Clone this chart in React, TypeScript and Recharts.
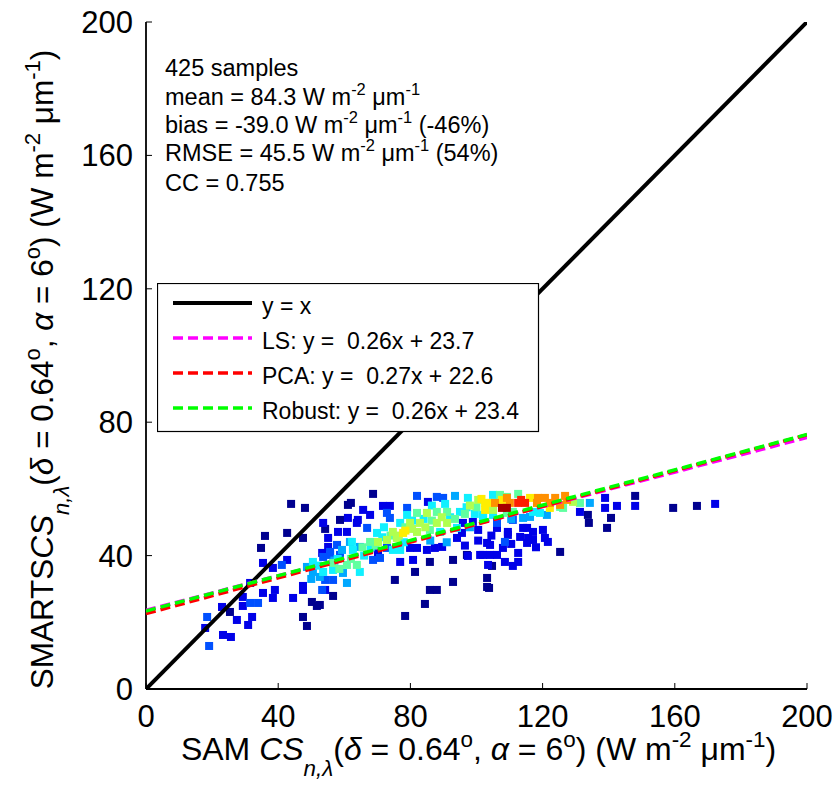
import React from "react";
import { ScatterChart, Scatter, XAxis, YAxis, Legend, Label } from "recharts";

// point colour bands (jet colormap, low density -> high density)
const navyPts: [number, number][] = [
  [43.9, 55.5], [48.1, 54.3], [36.0, 45.9], [42.7, 46.8], [34.8, 42.3], [47.5, 45.3], [54.2, 48.0],
  [25.4, 23.1], [50.2, 26.1], [51.7, 24.9], [47.5, 21.6], [48.7, 18.9], [68.7, 58.5], [61.1, 55.2],
  [62.0, 55.8], [58.7, 50.7], [85.9, 38.1], [92.9, 38.7], [75.3, 32.7], [81.4, 35.1], [85.9, 29.7],
  [88.0, 29.7], [92.9, 32.1], [84.4, 25.5], [78.4, 21.9], [56.6, 27.9], [103.2, 33.3], [103.2, 30.6],
  [52.6, 25.2], [125.3, 41.1], [104.7, 36.9], [103.8, 30.3], [140.7, 51.3], [133.7, 52.2], [134.0, 49.8],
  [139.5, 48.3], [148.0, 57.9], [159.5, 54.3], [166.7, 54.9], [97.1, 40.2],
];
const bluePts: [number, number][] = [
  [53.6, 49.8], [35.4, 37.8], [42.7, 38.7], [38.4, 36.3], [53.3, 40.8], [31.5, 31.8], [35.4, 28.8],
  [39.0, 29.7], [38.4, 27.3], [29.3, 27.6], [29.3, 24.9], [23.0, 24.6], [27.5, 20.7], [32.1, 21.6],
  [30.9, 19.2], [17.9, 18.3], [23.3, 16.2], [25.7, 15.6], [44.5, 27.3], [47.5, 29.7], [65.7, 53.7],
  [71.7, 54.9], [73.8, 54.9], [61.1, 51.3], [58.1, 47.1], [60.8, 47.1], [63.8, 49.8], [67.8, 52.2],
  [55.1, 45.3], [55.1, 42.6], [76.9, 38.1], [80.8, 38.7], [97.4, 39.9], [85.3, 56.1], [64.1, 50.7],
  [95.9, 49.8], [98.9, 50.1], [87.4, 42.3], [89.6, 42.6], [94.1, 45.3], [95.6, 46.8], [100.5, 47.7],
  [103.2, 43.8], [101.1, 40.2], [104.1, 40.2], [103.5, 37.2], [79.9, 42.3], [82.0, 42.3], [85.0, 41.7],
  [70.2, 40.8], [54.2, 29.7], [109.5, 47.1], [109.5, 46.2], [114.1, 48.3], [115.3, 48.3], [117.1, 47.1],
  [120.1, 47.7], [113.2, 45.6], [115.6, 45.3], [117.1, 44.7], [120.7, 45.3], [121.6, 44.1], [115.3, 43.8],
  [104.1, 43.2], [108.0, 42.3], [112.6, 40.8], [112.6, 38.1], [102.0, 40.2], [106.2, 40.2], [108.6, 38.1],
  [111.0, 36.9], [138.9, 57.3], [138.9, 54.3], [142.5, 54.9], [148.0, 54.9], [172.2, 55.5], [131.3, 53.1],
  [106.2, 48.3], [47.5, 30.9], [100.5, 44.5], [96.5, 43.0], [110.5, 43.5], [118.0, 42.5], [104.5, 46.0],
];
const midBluePts: [number, number][] = [
  [19.1, 12.9], [18.5, 21.6], [41.1, 37.2], [31.5, 25.8], [33.9, 25.8], [57.8, 43.2], [55.7, 41.1],
  [79.0, 54.3], [82.0, 57.9], [70.8, 39.3], [68.7, 38.7], [72.9, 52.8], [73.8, 51.3], [66.9, 48.3],
  [72.9, 42.3], [53.6, 39.6], [55.7, 40.2], [58.7, 40.2], [54.2, 32.7], [56.6, 32.7], [53.3, 29.7],
  [108.6, 44.1], [106.2, 49.8], [111.0, 50.7], [88.0, 57.6], [89.9, 57.3],
];
const skyPts: [number, number][] = [
  [61.7, 44.1], [64.7, 42.6], [59.3, 41.7], [48.7, 36.6], [52.6, 33.6], [50.5, 35.1], [59.6, 34.8],
  [60.8, 31.8], [93.5, 57.9], [114.1, 51.3], [116.2, 51.6], [121.3, 52.2], [134.3, 55.8],
  [57.0, 38.5], [50.0, 33.0], [86.0, 44.5], [91.0, 44.0], [98.0, 48.5], [110.5, 51.0],
];
const cyanPts: [number, number][] = [
  [69.9, 46.8], [62.3, 44.1], [62.6, 41.7], [74.7, 41.7], [76.9, 41.7], [79.0, 52.2], [76.9, 49.8],
  [94.1, 48.3], [89.0, 47.1], [95.0, 53.1], [102.0, 51.6], [97.4, 57.3], [53.6, 35.1], [56.6, 35.7],
  [64.7, 35.1], [102.0, 52.2], [105.0, 52.2], [117.1, 53.1], [119.2, 52.8], [105.0, 58.2],
  [50.5, 38.1], [52.0, 37.0], [58.0, 39.0], [66.0, 40.0], [68.0, 42.5], [71.5, 45.5], [80.5, 50.5],
  [84.0, 51.0], [92.0, 51.5], [97.0, 54.5], [99.5, 52.5], [86.5, 55.0], [90.5, 55.5], [72.0, 48.5], [78.0, 44.0],
];
const aquaPts: [number, number][] = [
  [67.8, 44.1], [82.0, 52.8], [88.0, 53.1], [91.1, 53.1], [85.9, 47.7], [56.6, 37.8], [60.8, 37.2],
  [63.8, 37.2], [107.1, 58.2], [109.2, 57.6], [112.6, 58.5], [131.3, 55.8], [125.3, 54.6], [126.2, 54.3],
  [109.2, 52.8], [111.0, 53.1], [65.5, 42.5], [69.5, 43.0], [74.0, 46.0], [78.5, 48.5], [86.5, 50.5],
  [93.5, 51.0], [96.5, 52.5], [100.0, 54.5], [62.0, 39.0], [58.5, 36.0],
];
const limePts: [number, number][] = [
  [85.0, 52.8], [100.5, 56.7], [79.9, 49.8], [82.9, 49.8], [88.0, 49.8], [91.1, 49.8], [74.7, 47.1],
  [82.0, 47.1], [70.2, 44.1], [72.9, 44.7], [75.9, 45.3], [105.0, 53.7], [129.2, 56.1],
  [76.5, 46.0], [80.5, 48.0], [84.5, 48.5], [89.5, 51.5], [103.5, 55.0], [98.0, 55.0],
];
const yellowPts: [number, number][] = [
  [77.8, 46.8], [102.6, 55.8], [104.1, 55.8], [107.7, 56.7], [102.6, 53.7], [122.2, 54.3], [116.2, 57.3],
  [78.5, 47.5], [101.5, 57.0],
];
const orangePts: [number, number][] = [
  [105.6, 55.8], [109.2, 57.3], [110.1, 55.8], [118.6, 57.3], [120.7, 57.3], [123.8, 57.3], [126.8, 57.9],
  [118.3, 55.8], [122.2, 55.8], [125.3, 55.2], [127.4, 56.7],
];
const redPts: [number, number][] = [[112.6, 55.8], [114.7, 55.8], [113.5, 56.7]];
const darkRedPts: [number, number][] = [[107.7, 54.3], [109.2, 54.3]];

const densityBands = [
  { name: "navy", color: "#00008F", pts: navyPts },
  { name: "blue", color: "#0000E8", pts: bluePts },
  { name: "midblue", color: "#0050FF", pts: midBluePts },
  { name: "sky", color: "#00A8FF", pts: skyPts },
  { name: "cyan", color: "#10F0FF", pts: cyanPts },
  { name: "aqua", color: "#60FFA0", pts: aquaPts },
  { name: "lime", color: "#B0FF50", pts: limePts },
  { name: "yellow", color: "#FFEE00", pts: yellowPts },
  { name: "orange", color: "#FF9000", pts: orangePts },
  { name: "red", color: "#FF2000", pts: redPts },
  { name: "darkred", color: "#A80000", pts: darkRedPts },
];

// reference / fit lines (end points)
const oneToOne = [{ x: 0, y: 0 }, { x: 200, y: 200 }];
const lsFit = [{ x: 0, y: 23.6 }, { x: 200, y: 75.4 }];
const pcaFit = [{ x: 0, y: 22.6 }, { x: 200, y: 76.2 }];
const robustFit = [{ x: 0, y: 23.4 }, { x: 200, y: 76.3 }];

const legendLabels = ["y = x", "LS: y =  0.26x + 23.7", "PCA: y =  0.27x + 22.6", "Robust: y =  0.26x + 23.4"];
const legendColors = ["#000000", "#FF00FF", "#FF0000", "#00FF00"];

const axisTicks = [0, 40, 80, 120, 160, 200];

const FONT = "'Liberation Sans', Arial, Helvetica, sans-serif";

type Seg = { t: string; it?: boolean; sub?: boolean; sup?: boolean };

function renderSegs(list: Seg[], fs: number) {
  let shift = 0;
  return list.map((s, i) => {
    const target = s.sub ? fs * 0.5 : s.sup ? -fs * 0.42 : 0;
    const dy = target - shift;
    shift = target;
    return (
      <tspan key={i} dy={dy} fontStyle={s.it ? "italic" : "normal"} fontSize={s.sub || s.sup ? fs * 0.7 : fs}>
        {s.t}
      </tspan>
    );
  });
}

const unitSegs: Seg[] = [
  { t: "(" }, { t: "δ", it: true }, { t: " = 0.64" }, { t: "o", sup: true }, { t: ", " },
  { t: "α", it: true }, { t: " = 6" }, { t: "o", sup: true }, { t: ") (W m" }, { t: "-2", sup: true },
  { t: " μm" }, { t: "-1", sup: true }, { t: ")" },
];
const xTitle: Seg[] = [{ t: "SAM " }, { t: "CS", it: true }, { t: "n,λ", it: true, sub: true }, ...unitSegs];
const yTitle: Seg[] = [{ t: "SMARTS" }, { t: "CS", it: true }, { t: "n,λ", it: true, sub: true }, ...unitSegs];

const statLines: Seg[][] = [
  [{ t: "425 samples" }],
  [{ t: "mean = 84.3 W m" }, { t: "-2", sup: true }, { t: " μm" }, { t: "-1", sup: true }],
  [{ t: "bias = -39.0 W m" }, { t: "-2", sup: true }, { t: " μm" }, { t: "-1", sup: true }, { t: " (-46%)" }],
  [{ t: "RMSE = 45.5 W m" }, { t: "-2", sup: true }, { t: " μm" }, { t: "-1", sup: true }, { t: " (54%)" }],
  [{ t: "CC = 0.755" }],
];
const statBaselines = [76, 105, 133, 161, 191];

const Square = (color: string) => (props: any) => {
  const { cx, cy } = props;
  if (cx == null || cy == null) return <g />;
  return <rect x={cx - 4} y={cy - 4} width={8} height={8} fill={color} />;
};

const FitLegend = () => (
  <svg width={383} height={150} style={{ display: "block" }}>
    <rect x={0.5} y={0.5} width={381} height={148} fill="#fff" stroke="#000" strokeWidth={1.2} />
    {legendLabels.map((lab, i) => {
      const y = 20 + i * 35;
      return (
        <g key={lab}>
          <line x1={16} x2={95} y1={y} y2={y} stroke={legendColors[i]} strokeWidth={i === 0 ? 4 : 3.5}
            strokeDasharray={i === 0 ? undefined : "10 5"} />
          <text x={105} y={y + 11} fontSize={23} fontFamily={FONT} fill="#000" style={{ whiteSpace: "pre" }}>{lab}</text>
        </g>
      );
    })}
  </svg>
);

const tickStyle = { fontSize: 31, fontFamily: FONT, fill: "#000" };

export default function App() {
  return (
    <div style={{ position: "absolute", left: 0, top: 0, width: 839, height: 792, background: "#fff" }}>
      <ScatterChart width={839} height={792} margin={{ top: 22, right: 32, left: 0, bottom: 0 }}>
        <XAxis type="number" dataKey="x" domain={[0, 200]} ticks={axisTicks} height={103}
          tickSize={-6} tickMargin={22} tick={tickStyle} axisLine={{ stroke: "#000", strokeWidth: 1.8 }}
          tickLine={{ stroke: "#000" }} allowDataOverflow>
          <Label content={(p: any) => {
            const vb = p.viewBox || { x: 146, y: 689, width: 661 };
            return (
              <text x={vb.x + vb.width / 2 + 2} y={vb.y + 71} textAnchor="middle" fontFamily={FONT} fontSize={32}
                fill="#000" style={{ whiteSpace: "pre" }}>
                {renderSegs(xTitle, 32)}
              </text>
            );
          }} />
        </XAxis>
        <XAxis xAxisId="top" orientation="top" type="number" domain={[0, 200]} ticks={axisTicks} height={0}
          tickSize={-6} tick={false} axisLine={{ stroke: "#000", strokeWidth: 1.8 }} tickLine={{ stroke: "#000" }} allowDataOverflow />
        <YAxis type="number" dataKey="y" domain={[0, 200]} ticks={axisTicks} width={146}
          tickSize={-6} tickMargin={19} tick={tickStyle} axisLine={{ stroke: "#000", strokeWidth: 1.8 }}
          tickLine={{ stroke: "#000" }} allowDataOverflow>
          <Label content={(p: any) => {
            const vb = p.viewBox || { x: 0, y: 22, height: 667 };
            const cx = 53;
            const cy = vb.y + vb.height / 2 + 14;
            return (
              <text x={cx} y={cy} transform={`rotate(-90, ${cx}, ${cy})`} textAnchor="middle" fontFamily={FONT}
                fontSize={31.5} fill="#000" style={{ whiteSpace: "pre" }}>
                {renderSegs(yTitle, 31.5)}
              </text>
            );
          }} />
        </YAxis>
        <YAxis yAxisId="right" orientation="right" type="number" domain={[0, 200]} ticks={axisTicks} width={0}
          tickSize={-6} tick={false} axisLine={{ stroke: "#000", strokeWidth: 1.8 }} tickLine={{ stroke: "#000" }} allowDataOverflow />

        {densityBands.map((b) => (
          <Scatter key={b.name} name={b.name} data={b.pts.map(([x, y]) => ({ x, y }))} shape={Square(b.color)}
            isAnimationActive={false} legendType="none" />
        ))}

        <Scatter name="y = x" data={oneToOne} shape={() => <g />} isAnimationActive={false} legendType="none"
          line={{ stroke: "#000", strokeWidth: 4 }} />
        <Scatter name="LS" data={lsFit} shape={() => <g />} isAnimationActive={false} legendType="none"
          line={{ stroke: "#FF00FF", strokeWidth: 3.5, strokeDasharray: "10 5" }} />
        <Scatter name="PCA" data={pcaFit} shape={() => <g />} isAnimationActive={false} legendType="none"
          line={{ stroke: "#FF0000", strokeWidth: 3.5, strokeDasharray: "10 5" }} />
        <Scatter name="Robust" data={robustFit} shape={() => <g />} isAnimationActive={false} legendType="none"
          line={{ stroke: "#00FF00", strokeWidth: 3.5, strokeDasharray: "10 5" }} />

        <Legend verticalAlign="middle" layout="horizontal" content={() => <FitLegend />}
          wrapperStyle={{ position: "absolute", left: 157, top: 283, width: 383, height: 150 }} />
      </ScatterChart>

      <svg width={839} height={792} style={{ position: "absolute", left: 0, top: 0, pointerEvents: "none" }}>
        {statLines.map((line, i) => (
          <text key={i} x={165} y={statBaselines[i]} fontSize={23.5} fontFamily={FONT} fill="#000" style={{ whiteSpace: "pre" }}>
            {renderSegs(line, 23.5)}
          </text>
        ))}
      </svg>
    </div>
  );
}
